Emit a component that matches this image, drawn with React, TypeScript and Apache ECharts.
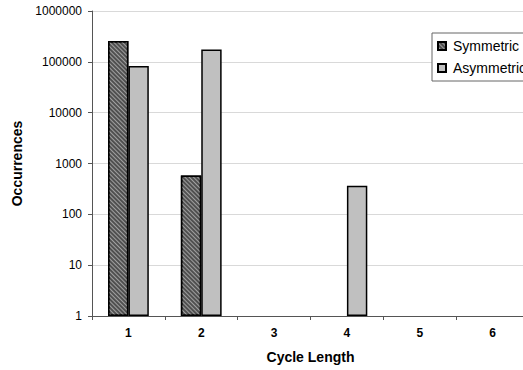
import React, { useEffect, useRef } from "react";
import * as echarts from "echarts";

const categories = ["1", "2", "3", "4", "5", "6"];
const symmetric: (number | null)[] = [258000, 580, null, null, null, null];
const asymmetric: (number | null)[] = [83000, 175000, null, 367, null, null];

const FONT = "Arial, 'Liberation Sans', sans-serif";

export default function App() {
  const ref = useRef<HTMLDivElement>(null);
  useEffect(() => {
    const chart = echarts.init(ref.current!, undefined, { renderer: "svg" });
    chart.setOption({
      animation: false,
      backgroundColor: "#ffffff",
      textStyle: { fontFamily: FONT },
      grid: { left: 92, top: 11, width: 437, height: 305, containLabel: false, outerBoundsMode: "none" },
      legend: {
        orient: "vertical",
        left: 432,
        top: 33,
        icon: "rect",
        itemWidth: 8,
        itemHeight: 8,
        itemGap: 8,
        padding: [6, 6, 6, 5],
        borderColor: "#666",
        borderWidth: 1,
        borderRadius: 0,
        backgroundColor: "#fff",
        textStyle: { fontSize: 14, color: "#000", fontFamily: FONT, padding: [0, 0, 0, 2] },
        data: ["Symmetric", "Asymmetric"],
      },
      xAxis: {
        type: "category",
        data: categories,
        name: "Cycle Length",
        nameLocation: "middle",
        nameGap: 34,
        nameTextStyle: { fontSize: 14, fontWeight: "bold", color: "#000", fontFamily: FONT },
        axisLine: { lineStyle: { color: "#555", width: 1 } },
        axisTick: { show: true, inside: false, length: 4, lineStyle: { color: "#555" } },
        axisLabel: { fontSize: 12, fontWeight: "bold", color: "#000", margin: 11, fontFamily: FONT },
        splitLine: { show: false },
      },
      yAxis: {
        type: "log",
        logBase: 10,
        min: 1,
        max: 1000000,
        name: "Occurrences",
        nameLocation: "middle",
        nameGap: 68,
        nameRotate: 90,
        nameTextStyle: { fontSize: 14, fontWeight: "bold", color: "#000", fontFamily: FONT },
        axisLine: { show: true, lineStyle: { color: "#555", width: 1 } },
        axisTick: { show: true, inside: false, length: 4, lineStyle: { color: "#555" } },
        axisLabel: {
          fontSize: 12,
          color: "#000",
          margin: 10,
          fontFamily: FONT,
          formatter: (v: number) => String(Math.round(v)),
        },
        splitLine: { show: true, lineStyle: { color: "#d9d9d9", width: 1 } },
        minorTick: { show: false },
      },
      series: [
        {
          name: "Symmetric",
          type: "bar",
          data: symmetric,
          barGap: "0%",
          barCategoryGap: "44%",
          itemStyle: {
            color: "#505050",
            borderColor: "#000",
            borderWidth: 1.5,
            decal: {
              symbol: "rect",
              symbolSize: 1,
              color: "#a0a0a0",
              dashArrayX: [1, 0],
              dashArrayY: [1, 2],
              rotation: Math.PI / 4,
            },
          },
        },
        {
          name: "Asymmetric",
          type: "bar",
          data: asymmetric,
          barGap: "0%",
          barCategoryGap: "44%",
          itemStyle: { color: "#c0c0c0", borderColor: "#000", borderWidth: 1.5 },
        },
      ],
    });
    return () => chart.dispose();
  }, []);
  return <div ref={ref} style={{ width: 523, height: 370, position: "absolute", left: 0, top: 0 }} />;
}
